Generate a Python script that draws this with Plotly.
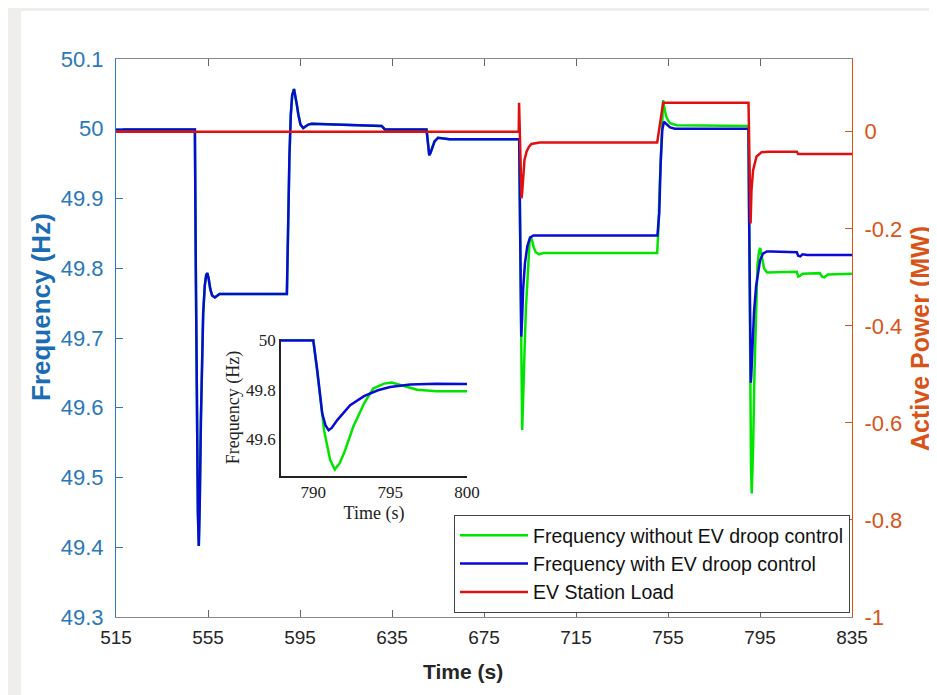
import plotly.graph_objects as go

# ---------------- data ----------------
t_with = [515, 549.3, 549.7, 550.2, 550.6, 551.0, 551.4, 551.9, 552.4, 552.9, 553.6, 554.2, 554.7,
          555.3, 556.0, 556.8, 558.0, 560.0, 589.3, 589.8, 590.4, 591.0, 591.6, 592.4, 593.0, 593.6,
          594.3, 595.2, 596.4, 597.5, 598.6, 600.0, 615.0, 630.5, 631.9, 650.0, 650.3, 650.7, 651.2,
          651.8, 652.5, 653.5, 655.0, 657.0, 660.0, 690.3, 690.6, 690.9, 691.2, 691.6, 692.0, 692.8,
          693.8, 695.0, 696.5, 750.4, 750.8, 751.2, 751.8, 752.5, 753.2, 754.2, 755.9, 758.0, 790.0,
          790.26, 790.58, 790.8, 791.0, 791.2, 791.56, 792.0, 792.4, 793.3, 794.2, 795.0, 796.3,
          798.0, 800.0, 811.0, 811.6, 812.5, 813.5, 815.5, 835]
f_with = [49.999, 49.999, 49.80, 49.56, 49.45, 49.402, 49.46, 49.58, 49.68, 49.735, 49.775, 49.790, 49.793,
          49.785, 49.770, 49.761, 49.758, 49.763, 49.763, 49.86, 49.96, 50.02, 50.048, 50.057, 50.048, 50.035,
          50.020, 50.006, 50.001, 50.003, 50.006, 50.007, 50.006, 50.004, 49.999, 49.999, 49.99, 49.975, 49.962,
          49.966, 49.974, 49.982, 49.987, 49.986, 49.985, 49.985, 49.88, 49.77, 49.702, 49.73, 49.769, 49.807,
          49.831, 49.844, 49.847, 49.847, 49.86, 49.879, 49.950, 49.998, 50.010, 50.007, 50.002, 50.0, 50.0,
          49.879, 49.704, 49.655, 49.636, 49.645, 49.677, 49.71, 49.737, 49.774, 49.798, 49.811, 49.821,
          49.824, 49.824, 49.823, 49.818, 49.817, 49.820, 49.819, 49.819]

t_without = [515, 549.3, 549.7, 550.2, 550.6, 551.0, 551.4, 551.9, 552.4, 552.9, 553.6, 554.2, 554.7,
             555.3, 556.0, 556.8, 558.0, 560.0, 589.3, 589.8, 590.4, 591.0, 591.6, 592.4, 593.0, 593.6,
             594.3, 595.2, 596.4, 597.5, 598.6, 600.0, 615.0, 630.5, 631.9, 650.0, 650.3, 650.7, 651.2,
             651.8, 652.5, 653.5, 655.0, 657.0, 660.0, 690.3, 690.6, 691.0, 691.3, 691.6, 691.9, 692.3,
             692.8, 693.2, 693.6, 694.0, 694.3, 694.8, 695.3, 695.9, 696.6, 697.5, 699.0, 701.0, 750.3,
             750.8, 751.5, 752.3, 752.9, 753.4, 754.2, 755.0, 755.9, 758.8, 790.0, 790.26, 790.58, 790.7,
             791.1, 791.4, 791.7, 792.0, 792.6, 793.3, 793.9, 794.6, 795.1, 795.9, 796.75, 798.05, 800.0,
             811.0, 811.6, 812.4, 813.5, 821.0, 822.0, 823.0, 824.5, 835]
f_without = [49.999, 49.999, 49.80, 49.56, 49.45, 49.402, 49.46, 49.58, 49.68, 49.735, 49.775, 49.790, 49.793,
             49.785, 49.770, 49.761, 49.758, 49.763, 49.763, 49.86, 49.96, 50.02, 50.048, 50.057, 50.048, 50.035,
             50.020, 50.006, 50.001, 50.003, 50.006, 50.007, 50.006, 50.004, 49.999, 49.999, 49.99, 49.975, 49.962,
             49.966, 49.974, 49.982, 49.987, 49.986, 49.985, 49.985, 49.86, 49.70, 49.61, 49.568, 49.60, 49.66,
             49.70, 49.74, 49.769, 49.80, 49.817, 49.838, 49.845, 49.840, 49.830, 49.823, 49.820, 49.822, 49.822,
             49.855, 49.927, 49.998, 50.041, 50.03, 50.018, 50.012, 50.008, 50.005, 50.004, 49.879, 49.704, 49.636,
             49.515, 49.477, 49.50, 49.542, 49.650, 49.744, 49.805, 49.825, 49.829, 49.815, 49.800, 49.794, 49.794,
             49.795, 49.788, 49.789, 49.792, 49.793, 49.788, 49.787, 49.791, 49.792]

t_load = [515, 690.1, 690.25, 690.6, 691.0, 691.3, 691.6, 692.0, 692.6, 693.5, 694.5, 695.6, 699.2,
          750.3, 752.9, 790.0, 790.2, 790.6, 790.9, 791.3, 792.0, 793.5, 795.7, 798.6, 811.0, 811.6, 835]
p_load = [0.0, 0.0, 0.060, -0.02, -0.11, -0.137, -0.125, -0.086, -0.058, -0.041, -0.031, -0.025, -0.022,
          -0.022, 0.060, 0.060, -0.02, -0.14, -0.189, -0.12, -0.079, -0.051, -0.042, -0.041, -0.041, -0.046, -0.046]

x_ticks = [515, 555, 595, 635, 675, 715, 755, 795, 835]
f_ticks = [49.3, 49.4, 49.5, 49.6, 49.7, 49.8, 49.9, 50.0, 50.1]
f_ticktext = ["49.3", "49.4", "49.5", "49.6", "49.7", "49.8", "49.9", "50", "50.1"]
p_ticks = [-1, -0.8, -0.6, -0.4, -0.2, 0]
p_ticktext = ["-1", "-0.8", "-0.6", "-0.4", "-0.2", "0"]
inset_xticks = [790, 795, 800]
inset_yticks = [49.6, 49.8, 50.0]
inset_yticktext = ["49.6", "49.8", "50"]

# ---------------- styles ----------------
GREEN = "#00e400"
BLUE = "#0a0ad6"
RED = "#e01010"
LBLUE = "#2a78b8"
ORANGE = "#d95319"
SANS = "Liberation Sans, Arial, sans-serif"
SERIF = "Liberation Serif, Times New Roman, serif"

fig = go.Figure()
fig.add_trace(go.Scatter(x=t_without, y=f_without, mode="lines", name="Frequency without EV droop control",
                         line=dict(color=GREEN, width=2.5), xaxis="x", yaxis="y"))
fig.add_trace(go.Scatter(x=t_with, y=f_with, mode="lines", name="Frequency with EV droop control",
                         line=dict(color=BLUE, width=2.5), xaxis="x", yaxis="y"))
fig.add_trace(go.Scatter(x=t_load, y=p_load, mode="lines", name="EV Station Load",
                         line=dict(color=RED, width=2.5), xaxis="x", yaxis="y2"))
# inset
fig.add_trace(go.Scatter(x=t_without, y=f_without, mode="lines", showlegend=False,
                         line=dict(color=GREEN, width=2.5), xaxis="x3", yaxis="y3"))
fig.add_trace(go.Scatter(x=t_with, y=f_with, mode="lines", showlegend=False,
                         line=dict(color=BLUE, width=2.5), xaxis="x3", yaxis="y3"))

# The page body has an 8 px margin, so the figure is offset by 8 px in the screenshot.
OFF = 8
L, R, T, B = 116, 85, 59, 78          # in screenshot pixels
W, H = 937, 695
pw, ph = W - L - R, H - T - B


def px(x):
    return (x - L) / pw


def py(y):
    return (H - B - y) / ph


GRAY = "#efeeea"
shapes = [
    dict(type="rect", xref="paper", yref="paper", x0=px(0), x1=px(21), y0=py(H + 20), y1=py(0),
         fillcolor=GRAY, line=dict(width=0), layer="below"),
    dict(type="rect", xref="paper", yref="paper", x0=px(0), x1=px(W + 20), y0=py(11), y1=py(0),
         fillcolor=GRAY, line=dict(width=0), layer="below"),
]

annotations = [
    dict(text="<b>Frequency (Hz)</b>", xref="paper", yref="paper", x=px(41), y=py(307),
         xanchor="center", yanchor="middle", textangle=-90, showarrow=False,
         font=dict(family=SANS, size=26, color="#1a6db4")),
    dict(text="<b>Active Power (MW)</b>", xref="paper", yref="paper", x=px(920), y=py(339),
         xanchor="center", yanchor="middle", textangle=-90, showarrow=False,
         font=dict(family=SANS, size=25, color=ORANGE)),
    dict(text="<b>Time (s)</b>", xref="paper", yref="paper", x=px(463), y=py(671),
         xanchor="center", yanchor="middle", showarrow=False,
         font=dict(family=SANS, size=21, color="#262626")),
]

fig.update_layout(
    width=W - OFF, height=H - OFF, autosize=False,
    margin=dict(l=L - OFF, r=R, t=T - OFF, b=B, pad=0),
    paper_bgcolor="white", plot_bgcolor="white",
    shapes=shapes,
    annotations=annotations,
    showlegend=True,
    legend=dict(x=px(850), y=py(515), xanchor="right", yanchor="top",
                bgcolor="white", bordercolor="#444", borderwidth=1,
                font=dict(family=SANS, size=19.5, color="#111"), itemwidth=68,
                tracegroupgap=0),
    xaxis=dict(range=[515, 835], tickmode="array", tickvals=x_ticks, ticks="inside", ticklen=7,
               tickcolor="#666", linecolor="#888", linewidth=1, showline=True, mirror="ticks",
               showgrid=False, zeroline=False, ticklabelstandoff=3,
               tickfont=dict(family=SANS, size=19, color="#262626")),
    yaxis=dict(range=[49.3, 50.1], tickmode="array", tickvals=f_ticks, ticktext=f_ticktext,
               ticks="inside", ticklen=7, tickcolor=LBLUE, linecolor=LBLUE, linewidth=1, showline=True,
               showgrid=False, zeroline=False, ticklabelstandoff=7,
               tickfont=dict(family=SANS, size=22, color=LBLUE)),
    yaxis2=dict(range=[-1, 0.15], overlaying="y", side="right", tickmode="array", tickvals=p_ticks,
                ticktext=p_ticktext, ticks="inside", ticklen=7, tickcolor=ORANGE, linecolor=ORANGE,
                linewidth=1, showline=True, showgrid=False, zeroline=False, ticklabelstandoff=7,
                tickfont=dict(family=SANS, size=22, color=ORANGE)),
    xaxis3=dict(domain=[px(281), px(467)], anchor="y3", range=[787.9, 800], tickmode="array",
                tickvals=inset_xticks, ticks="", showline=True, linecolor="#222", linewidth=1.5,
                showgrid=False, zeroline=False, tickfont=dict(family=SERIF, size=17, color="#222"),
                title=dict(text="Time (s)", font=dict(family=SERIF, size=18, color="#222"), standoff=5)),
    yaxis3=dict(domain=[py(476), py(339)], anchor="x3", range=[49.45, 50.006], tickmode="array",
                tickvals=inset_yticks, ticktext=inset_yticktext, ticks="", showline=True,
                linecolor="#222", linewidth=1.5, showgrid=False, zeroline=False,
                tickfont=dict(family=SERIF, size=17, color="#222"),
                title=dict(text="Frequency (Hz)", font=dict(family=SERIF, size=18, color="#222"), standoff=2)),
)

fig.write_html("out.html")
